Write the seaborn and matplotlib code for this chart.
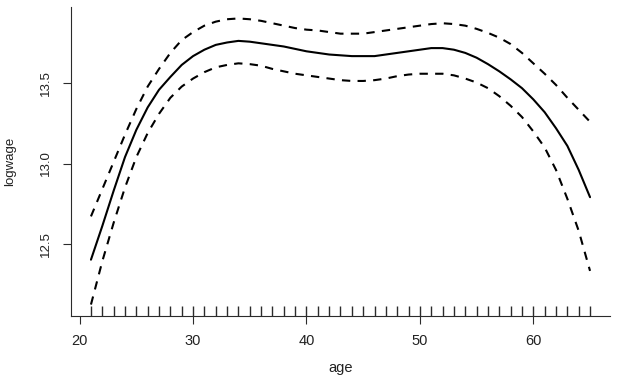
import numpy as np
import pandas as pd
import matplotlib
matplotlib.use("Agg")
import matplotlib.pyplot as plt
import seaborn as sns

# smooth fit of log wage on age, with upper / lower bands
ages = list(range(21, 66))
fit = [12.40, 12.61, 12.83, 13.04, 13.21, 13.35, 13.46, 13.54, 13.615, 13.67,
       13.71, 13.74, 13.755, 13.765, 13.76, 13.75, 13.74, 13.73, 13.715, 13.70,
       13.69, 13.68, 13.675, 13.67, 13.67, 13.67, 13.68, 13.69, 13.70, 13.71,
       13.72, 13.72, 13.71, 13.69, 13.66, 13.62, 13.575, 13.525, 13.47, 13.40,
       13.32, 13.22, 13.11, 12.96, 12.79]
upper = [12.67, 12.84, 13.01, 13.18, 13.34, 13.48, 13.59, 13.69, 13.77, 13.82,
         13.86, 13.885, 13.90, 13.905, 13.90, 13.89, 13.875, 13.86, 13.845, 13.835,
         13.83, 13.82, 13.81, 13.81, 13.81, 13.82, 13.83, 13.84, 13.85, 13.86,
         13.87, 13.875, 13.87, 13.86, 13.84, 13.815, 13.785, 13.745, 13.69, 13.625,
         13.56, 13.49, 13.41, 13.335, 13.26]
lower = [12.12, 12.39, 12.63, 12.85, 13.04, 13.19, 13.31, 13.41, 13.48, 13.53,
         13.57, 13.60, 13.615, 13.625, 13.62, 13.61, 13.59, 13.575, 13.56, 13.55,
         13.54, 13.53, 13.52, 13.515, 13.515, 13.52, 13.53, 13.545, 13.555, 13.56,
         13.56, 13.56, 13.55, 13.53, 13.505, 13.47, 13.42, 13.36, 13.29, 13.20,
         13.10, 12.96, 12.78, 12.58, 12.33]
rug_ages = list(range(21, 66))

x_ticks = [20, 30, 40, 50, 60]
y_ticks = [12.5, 13.0, 13.5]

df = pd.DataFrame({"age": ages, "fit": fit, "upper": upper, "lower": lower})

sns.set_theme(style="ticks")
plt.rcParams["font.family"] = ["Liberation Sans", "DejaVu Sans"]

W, H = 628, 377
fig = plt.figure(figsize=(W / 100, H / 100), dpi=100)
# plot region in pixels: x 71..610, y 7..316
ax = fig.add_axes([71 / W, 1 - 316 / H, (610 - 71) / W, (316 - 7) / H])

dark = "#2b2b2b"
dash = (0, (4, 3.5))
sns.lineplot(data=df, x="age", y="fit", color="black", lw=1.5, ax=ax)
sns.lineplot(data=df, x="age", y="upper", color="black", lw=1.5, linestyle=dash, ax=ax)
sns.lineplot(data=df, x="age", y="lower", color="black", lw=1.5, linestyle=dash, ax=ax)
sns.rugplot(x=rug_ages, height=0.032, color=dark, lw=0.9, expand_margins=False, ax=ax)

# R-style limits: data range padded by 4%
xr = max(ages) - min(ages)
ax.set_xlim(min(ages) - 0.04 * xr, max(ages) + 0.04 * xr)
ylo, yhi = min(lower), max(upper)
yr = yhi - ylo
ax.set_ylim(ylo - 0.04 * yr, yhi + 0.04 * yr)

ax.set_xticks(x_ticks)
ax.set_yticks(y_ticks)
ax.set_yticklabels([f"{v:.1f}" for v in y_ticks])
ax.tick_params(axis="x", length=5.5, width=0.8, color=dark, labelsize=10.5,
               labelcolor="#222222", pad=7.5)
ax.tick_params(axis="y", length=5.5, width=0.8, color=dark, labelsize=9.5,
               labelcolor="#222222", pad=8)
plt.setp(ax.get_yticklabels(), rotation=90, va="center")

sns.despine(ax=ax)
for side in ["left", "bottom"]:
    ax.spines[side].set_color(dark)
    ax.spines[side].set_linewidth(0.8)

ax.set_xlabel("age", fontsize=10.5, color="#222222")
ax.set_ylabel("logwage", fontsize=9.5, color="#222222")
ax.xaxis.set_label_coords(0.5, -(361 - 316) / 309)
ax.yaxis.set_label_coords((16 - 71) / 539, 0.5)

fig.savefig("out.png", dpi=100)
